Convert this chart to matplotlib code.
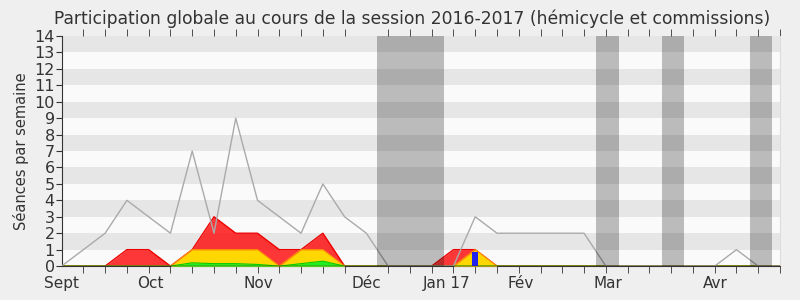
import numpy as np
import matplotlib
matplotlib.use("Agg")
import matplotlib.pyplot as plt

# weekly values, week 0 = start of september 2016
weeks = np.arange(34)
total = [0, 1, 2, 4, 3, 2, 7, 2, 9, 4, 3, 2, 5, 3, 2, 0, 0, 0, 0, 3, 2, 2, 2, 2, 2, 0, 0, 0, 0, 0, 0, 1, 0, 0]
# cumulative stacked levels
green_top = [0, 0, 0, 0, 0, 0, 0.2, 0.15, 0.15, 0.1, 0, 0.15, 0.3, 0, 0, 0, 0, 0, 0, 0, 0, 0, 0, 0, 0, 0, 0, 0, 0, 0, 0, 0, 0, 0]
yellow_top = [0, 0, 0, 0, 0, 0, 1, 1, 1, 1, 0, 1, 1, 0, 0, 0, 0, 0, 0, 1, 0, 0, 0, 0, 0, 0, 0, 0, 0, 0, 0, 0, 0, 0]
red_top = [0, 0, 0, 1, 1, 0, 1, 3, 2, 2, 1, 1, 2, 0, 0, 0, 0, 0, 1, 1, 0, 0, 0, 0, 0, 0, 0, 0, 0, 0, 0, 0, 0, 0]
blue_week = [19]
blue_val = [0.87]

# holiday periods (in weeks)
holidays = [(14.48, 17.56), (24.53, 25.6), (27.57, 28.57), (31.6, 32.65)]

month_pos = [0, 4.07, 9.05, 14.0, 17.7, 21.1, 25.1, 30.05]
month_labels = ["Sept", "Oct", "Nov", "Déc", "Jan 17", "Fév", "Mar", "Avr"]

fig = plt.figure(figsize=(8, 3), dpi=100, facecolor="#efefef")
ax = fig.add_axes([0.077, 0.113, 0.898, 0.767])
ax.set_facecolor("#fafafa")

for k in range(1, 14, 2):
    ax.axhspan(k, k + 1, color="#e6e6e6", lw=0, zorder=0)

ax.fill_between(weeks, 0, red_top, color="#ff0000", alpha=0.78, lw=0, zorder=2)
ax.plot(weeks, red_top, color="#ee0000", lw=1, zorder=3)
ax.fill_between(weeks, 0, yellow_top, color="#ffd700", lw=0, zorder=4)
ax.plot(weeks, yellow_top, color="#ff9900", lw=0.8, zorder=4)
ax.fill_between(weeks, 0, green_top, color="#22ee22", lw=0, zorder=5)
ax.plot(weeks, green_top, color="#00cc00", lw=0.8, zorder=5)
ax.bar(blue_week, blue_val, width=0.28, color="#2222ee", zorder=6)
ax.plot(weeks, total, color="#aaaaaa", lw=1, zorder=7)
ax.axhline(0, color="#550000", lw=1, zorder=8)

for a, b in holidays:
    ax.axvspan(a, b, color="black", alpha=0.25, lw=0, zorder=9)

ax.set_xlim(0, 33)
ax.set_ylim(0, 14)
ax.set_yticks(range(15))
ax.tick_params(axis="y", labelsize=11.5, length=4, pad=1, colors="#333333")
ax.set_xticks(month_pos)
ax.set_xticklabels(month_labels)
ax.set_xticks(weeks, minor=True)
ax.tick_params(axis="x", which="major", length=0, labelsize=11, pad=7, labelcolor="#333333")
ax.tick_params(axis="x", which="minor", length=5, top=True, color="#333333")

ax.spines["top"].set_visible(False)
ax.spines["right"].set_color("#dddddd")
ax.spines["left"].set_color("#333333")
ax.spines["bottom"].set_color("#333333")

ax.set_ylabel("Séances par semaine", fontsize=10.5, color="#333333", labelpad=4)
fig.suptitle("Participation globale au cours de la session 2016-2017 (hémicycle et commissions)",
             x=0.515, y=0.97, fontsize=12.3, color="#333333")

fig.savefig("out.png", dpi=100, facecolor=fig.get_facecolor())
